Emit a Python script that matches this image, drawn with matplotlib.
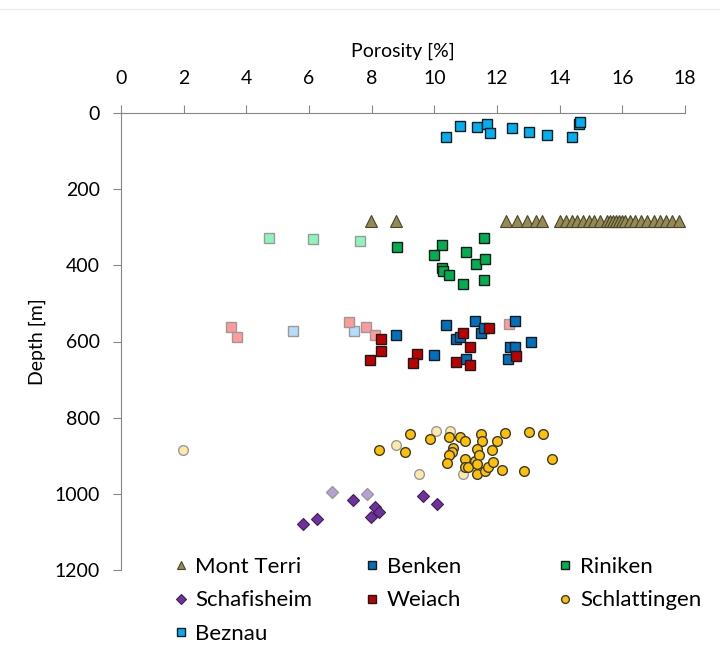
import numpy as np
import matplotlib.pyplot as plt
from matplotlib.lines import Line2D

plt.rcParams['font.family'] = ['Lato', 'DejaVu Sans']

# porosity [%] / depth [m]
beznau_por = [10.38, 10.81, 11.35, 11.68, 11.78, 12.49, 13.02, 13.58, 14.38, 14.63, 14.66]
beznau_dep = [62, 34, 37, 29, 53, 40, 49, 58, 64, 29, 23]

mt_por = [7.98, 8.78, 12.3, 12.65, 12.95, 13.25, 13.45, 14.0, 14.2, 14.4, 14.55, 14.75,
          14.95, 15.1, 15.3, 15.5, 15.6, 15.7, 15.8, 15.9, 16.0, 16.1, 16.25, 16.4,
          16.6, 16.8, 17.0, 17.2, 17.4, 17.6, 17.8]
mt_dep = [284, 284, 284, 284, 284, 284, 284, 284, 284, 284, 284, 284,
          284, 284, 284, 284, 284, 284, 284, 284, 284, 284, 284, 284,
          284, 284, 284, 284, 284, 284, 284]

riniken_por = [8.80, 10.26, 10.0, 11.0, 11.6, 11.33, 11.63, 10.24, 10.27, 10.47, 10.92, 11.6]
riniken_dep = [353, 346, 374, 365, 328, 396, 384, 408, 416, 426, 448, 438]
riniken_faded_por = [4.72, 6.12, 7.62]
riniken_faded_dep = [328, 331, 335]

benken_por = [8.77, 10.37, 11.30, 10.70, 10.82, 11.48, 11.59, 12.58, 13.09, 12.42, 12.58,
              12.36, 9.99, 11.02]
benken_dep = [583, 556, 546, 594, 588, 578, 565, 546, 602, 614, 614, 646, 636, 645]
benken_faded_por = [5.50, 7.44]
benken_faded_dep = [573, 573]

weiach_por = [8.30, 8.30, 7.96, 9.46, 9.33, 10.93, 11.75, 11.13, 10.70, 11.13, 12.61]
weiach_dep = [594, 625, 648, 633, 656, 578, 565, 614, 653, 661, 639]
weiach_faded_por = [3.50, 3.71, 7.28, 7.81, 8.11, 12.37]
weiach_faded_dep = [561, 587, 549, 561, 583, 553]

schl_por = [8.22, 9.21, 9.06, 9.87, 10.48, 10.82, 10.98, 11.48, 11.53, 11.99, 12.26, 13.01,
            13.47, 13.75, 10.61, 10.55, 10.48, 10.41, 10.98, 10.98, 11.09, 11.30, 11.37,
            11.43, 11.37, 11.35, 11.62, 11.70, 11.83, 11.86, 12.17, 12.85]
schl_dep = [884, 844, 891, 855, 851, 851, 862, 843, 860, 862, 840, 837,
            844, 908, 880, 889, 898, 920, 909, 930, 930, 915, 882,
            899, 921, 947, 940, 930, 886, 916, 937, 940]
schl_faded_por = [1.97, 8.78, 10.04, 10.5, 9.50, 10.9]
schl_faded_dep = [886, 871, 834, 834, 949, 949]

schaf_por = [7.39, 8.11, 8.22, 7.97, 9.63, 10.10, 6.26, 5.81]
schaf_dep = [1016, 1035, 1049, 1060, 1007, 1027, 1066, 1078]
schaf_faded_por = [6.73, 7.86]
schaf_faded_dep = [995, 1000]

fig = plt.figure(figsize=(7.2, 6.48), dpi=100)
ax = fig.add_axes([121/720, 1 - 570/648, 564/720, 457/648])

ms = 7
edge = '#1a1a1a'
fade_edge = '#9a9a9a'

ax.plot(riniken_faded_por, riniken_faded_dep, ls='None', marker='s', ms=ms, mfc='#8DF5BC', mec=fade_edge, mew=1)
ax.plot(benken_faded_por, benken_faded_dep, ls='None', marker='s', ms=ms, mfc='#B3DDFA', mec=fade_edge, mew=1)
ax.plot(weiach_faded_por, weiach_faded_dep, ls='None', marker='s', ms=ms, mfc='#FF9B9B', mec=fade_edge, mew=1)
ax.plot(schl_faded_por, schl_faded_dep, ls='None', marker='o', ms=ms, mfc='#FFE9A8', mec=fade_edge, mew=1)
ax.plot(schaf_faded_por, schaf_faded_dep, ls='None', marker='D', ms=6, mfc='#B79FD8', mec=fade_edge, mew=1)

h_mt, = ax.plot(mt_por, mt_dep, ls='None', marker='^', ms=8, mfc='#948A54', mec='#4a452a', mew=0.8, label='Mont Terri')
h_be, = ax.plot(benken_por, benken_dep, ls='None', marker='s', ms=ms, mfc='#0070C0', mec=edge, mew=1, label='Benken')
h_ri, = ax.plot(riniken_por, riniken_dep, ls='None', marker='s', ms=ms, mfc='#00B050', mec=edge, mew=1, label='Riniken')
h_sf, = ax.plot(schaf_por, schaf_dep, ls='None', marker='D', ms=6, mfc='#7030A0', mec='#3c2050', mew=0.8, label='Schafisheim')
h_we, = ax.plot(weiach_por, weiach_dep, ls='None', marker='s', ms=ms, mfc='#C00000', mec=edge, mew=1, label='Weiach')
h_sc, = ax.plot(schl_por, schl_dep, ls='None', marker='o', ms=ms, mfc='#FFC000', mec='#3a3a3a', mew=1, label='Schlattingen')
h_bz, = ax.plot(beznau_por, beznau_dep, ls='None', marker='s', ms=ms, mfc='#00B0F0', mec=edge, mew=1, label='Beznau')

ax.set_xlim(0, 18)
ax.set_ylim(1200, 0)
ax.xaxis.set_ticks(np.arange(0, 19, 2))
ax.yaxis.set_ticks(np.arange(0, 1201, 200))
ax.xaxis.tick_top()
ax.xaxis.set_label_position('top')
for s in ['right', 'bottom']:
    ax.spines[s].set_visible(False)
for s in ['left', 'top']:
    ax.spines[s].set_color('#868686')
ax.tick_params(axis='x', direction='out', length=6, color='#868686', labelsize=14, pad=13)
ax.tick_params(axis='y', direction='out', length=6, color='#868686', labelsize=14, pad=9)
ax.set_xlabel('Porosity [%]', fontsize=14, labelpad=9)
ax.set_ylabel('Depth [m]', fontsize=14, labelpad=6)

# legend, three equal width columns like the original
cols = [([h_mt, h_sf, h_bz], 0.242), ([h_be, h_we], 0.508), ([h_ri, h_sc], 0.776)]
for hs, x0 in cols:
    leg = fig.legend(handles=hs, loc='upper left', bbox_to_anchor=(x0, 0.141), frameon=False,
                     fontsize=16, markerscale=0.8, handlelength=0.6, handletextpad=0.35,
                     labelspacing=0.62, borderaxespad=0, borderpad=0)

fig.add_artist(Line2D([0, 1], [0.986, 0.986], color='#eeeeee', lw=1))

fig.savefig('out.png', dpi=100)
